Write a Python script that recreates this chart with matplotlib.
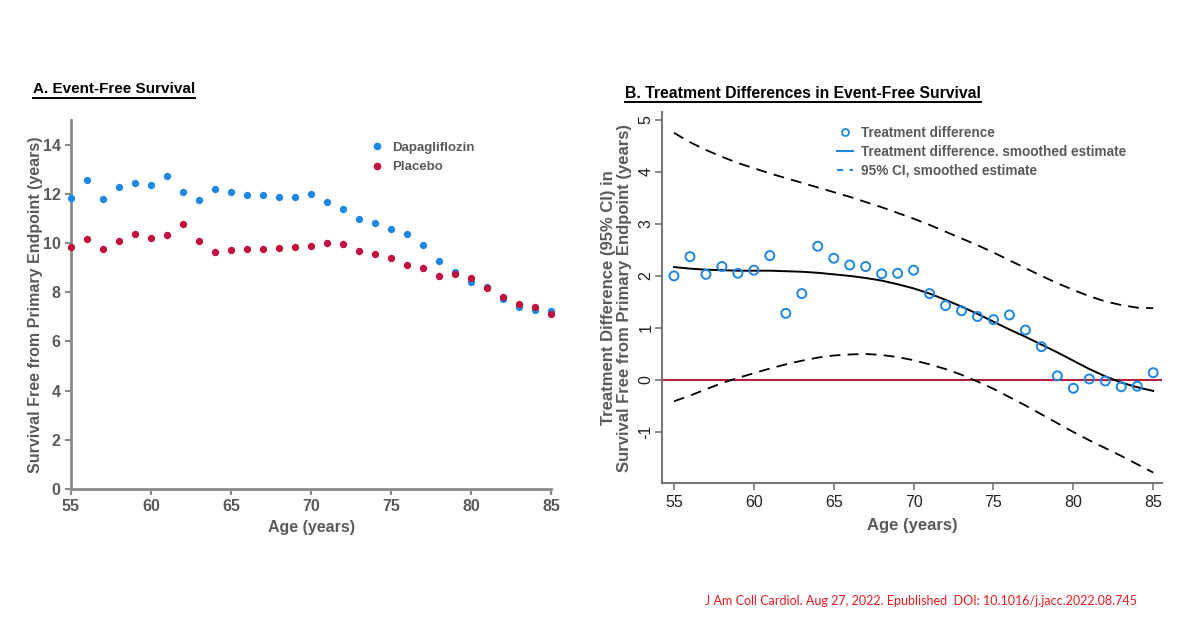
import matplotlib
matplotlib.use("Agg")
import matplotlib.pyplot as plt
from matplotlib.lines import Line2D

ages = list(range(55, 86))
dapagliflozin = [11.82, 12.56, 11.80, 12.29, 12.44, 12.34, 12.72, 12.07, 11.74, 12.20,
                 12.08, 11.97, 11.95, 11.85, 11.88, 12.01, 11.66, 11.39, 10.99, 10.80,
                 10.56, 10.37, 9.92, 9.28, 8.84, 8.41, 8.23, 7.74, 7.39, 7.27, 7.25]
placebo = [9.84, 10.18, 9.76, 10.10, 10.38, 10.22, 10.31, 10.78, 10.07, 9.62,
           9.71, 9.76, 9.74, 9.80, 9.82, 9.89, 9.99, 9.96, 9.66, 9.56,
           9.41, 9.09, 8.98, 8.64, 8.75, 8.56, 8.19, 7.80, 7.52, 7.41, 7.10]
treat_diff = [2.00, 2.37, 2.03, 2.18, 2.05, 2.11, 2.39, 1.28, 1.66, 2.57,
              2.34, 2.21, 2.18, 2.04, 2.05, 2.11, 1.66, 1.43, 1.33, 1.22,
              1.16, 1.25, 0.96, 0.64, 0.08, -0.16, 0.02, -0.02, -0.13, -0.12, 0.14]
smoothed = [2.17, 2.14, 2.12, 2.11, 2.10, 2.10, 2.10, 2.09, 2.08, 2.06,
            2.03, 2.00, 1.96, 1.91, 1.84, 1.76, 1.66, 1.54, 1.41, 1.27,
            1.12, 0.97, 0.83, 0.68, 0.53, 0.37, 0.21, 0.07, -0.05, -0.14, -0.21]
ci_upper = [4.75, 4.57, 4.42, 4.29, 4.17, 4.07, 3.97, 3.88, 3.79, 3.70,
            3.61, 3.52, 3.42, 3.32, 3.21, 3.10, 2.98, 2.85, 2.72, 2.59,
            2.45, 2.30, 2.15, 2.00, 1.86, 1.73, 1.61, 1.51, 1.44, 1.39, 1.38]
ci_lower = [-0.41, -0.30, -0.18, -0.06, 0.04, 0.13, 0.22, 0.30, 0.37, 0.43,
            0.47, 0.49, 0.50, 0.48, 0.44, 0.38, 0.30, 0.21, 0.10, -0.03,
            -0.17, -0.33, -0.49, -0.66, -0.83, -1.00, -1.16, -1.31, -1.46, -1.62, -1.78]

left_yticks = [0, 2, 4, 6, 8, 10, 12, 14]
xticks = [55, 60, 65, 70, 75, 80, 85]
right_yticks = [-1, 0, 1, 2, 3, 4, 5]

plt.rcParams['font.family'] = ['Liberation Sans', 'DejaVu Sans']
plt.rcParams['axes.unicode_minus'] = False

BLUE = '#1a8ae6'
RED = '#c0123c'
GRAY = '#5a5a5a'
SPINE = '#8a8a8a'

W, H = 1200, 628
fig = plt.figure(figsize=(12, 6.28), dpi=100)

def fx(px):
    return px / W

def fy(py):
    return 1 - py / H

# ---------- Panel A ----------
axA = fig.add_axes([fx(71), fy(489), fx(551 - 71), (489 - 120) / H])
axA.scatter(ages, dapagliflozin, s=28, color=BLUE, zorder=3, linewidths=0, clip_on=False)
axA.scatter(ages, placebo, s=28, color=RED, zorder=3, linewidths=0, clip_on=False)
axA.set_xlim(55, 85)
axA.set_ylim(0, 15)
axA.set_xticks(xticks)
axA.set_yticks(left_yticks)
for s in ['top', 'right']:
    axA.spines[s].set_visible(False)
for s in ['left', 'bottom']:
    axA.spines[s].set_color(SPINE)
    axA.spines[s].set_linewidth(2)
axA.tick_params(axis='both', colors=SPINE, width=1.5, length=4, labelcolor=GRAY,
                labelsize=11.5)
for lab in axA.get_xticklabels() + axA.get_yticklabels():
    lab.set_fontweight('bold')
axA.set_xlabel('Age (years)', fontsize=11.5, fontweight='bold', color=GRAY, labelpad=4)
axA.set_ylabel('Survival Free from Primary Endpoint (years)', fontsize=11.5,
               fontweight='bold', color=GRAY, labelpad=0)
legA = axA.legend(handles=[
    Line2D([], [], marker='o', ls='none', color=BLUE, markersize=5.5, markeredgewidth=0, label='Dapagliflozin'),
    Line2D([], [], marker='o', ls='none', color=RED, markersize=5.5, markeredgewidth=0, label='Placebo')],
    loc='upper left', bbox_to_anchor=((362 - 71) / 480, (489 - 135) / 369),
    frameon=False, handletextpad=0.6, labelspacing=0.55, borderpad=0, handlelength=1.2,
    prop={'size': 9.5, 'weight': 'bold'})
for t in legA.get_texts():
    t.set_color(GRAY)

# ---------- Panel B ----------
axB = fig.add_axes([fx(662), fy(483), fx(1162 - 662), (483 - 112) / H])
axB.axhline(0, color='#b5203f', lw=1.5, zorder=1)
axB.plot(ages, ci_upper, color='black', lw=1.3, ls=(0, (6, 4)), zorder=2)
axB.plot(ages, ci_lower, color='black', lw=1.3, ls=(0, (6, 4)), zorder=2)
axB.plot(ages, smoothed, color='black', lw=1.4, zorder=2)
axB.scatter(ages, treat_diff, s=42, facecolors='none', edgecolors='#1e86e3',
            linewidths=1.4, zorder=3)
axB.set_xlim(54.25, 85.55)
axB.set_ylim(-1.98, 5.15)
axB.set_xticks(xticks)
axB.set_yticks(right_yticks)
for s in ['top', 'right']:
    axB.spines[s].set_visible(False)
for s in ['left', 'bottom']:
    axB.spines[s].set_color('#777777')
    axB.spines[s].set_linewidth(1.5)
axB.tick_params(axis='both', colors='#777777', width=1.2, length=5, labelcolor='#222222',
                labelsize=11.5)
axB.tick_params(axis='y', labelrotation=90, pad=1)
for lab in axB.get_yticklabels():
    lab.set_va('center')
axB.set_xlabel('Age (years)', fontsize=12, fontweight='bold', color=GRAY, labelpad=6)
axB.set_ylabel('Treatment Difference (95% CI) in\nSurvival Free from Primary Endpoint (years)',
               fontsize=12, fontweight='bold', color=GRAY, labelpad=5, linespacing=1.1)
legB = axB.legend(handles=[
    Line2D([], [], marker='o', ls='none', markerfacecolor='none', markeredgecolor='#1e86e3',
           markersize=5, markeredgewidth=1.3, label='Treatment difference'),
    Line2D([], [], color='#1e86e3', lw=1.5, label='Treatment difference. smoothed estimate'),
    Line2D([], [], color='#1e86e3', lw=1.5, ls=(0, (3, 3)), label='95% CI, smoothed estimate')],
    loc='upper left', bbox_to_anchor=((830 - 662) / 500, (483 - 119) / 371),
    frameon=False, handletextpad=0.6, labelspacing=0.35, borderpad=0, handlelength=1.2,
    prop={'size': 9.8, 'weight': 'bold'})
for t in legB.get_texts():
    t.set_color(GRAY)

# ---------- Titles ----------
tA = fig.text(fx(33), fy(89), 'A. Event-Free Survival', fontsize=11, fontweight='bold',
              color='black', va='center', ha='left')
tB = fig.text(fx(625), fy(93), 'B. Treatment Differences in Event-Free Survival', fontsize=11.3,
              fontweight='bold', color='black', va='center', ha='left')
fig.text(fx(705), fy(601), 'J Am Coll Cardiol. Aug 27, 2022. Epublished  DOI: 10.1016/j.jacc.2022.08.745',
         fontsize=9.0, color='#e8191e', va='center', ha='left', family=['Lato', 'DejaVu Sans'])

fig.canvas.draw()
renderer = fig.canvas.get_renderer()
for t in (tA, tB):
    bb = t.get_window_extent(renderer)
    y = bb.y0 - 1.5
    fig.add_artist(Line2D([bb.x0 / W, bb.x1 / W], [y / H, y / H], transform=fig.transFigure,
                          color='black', lw=1.4))

fig.savefig('out.png', dpi=100)
